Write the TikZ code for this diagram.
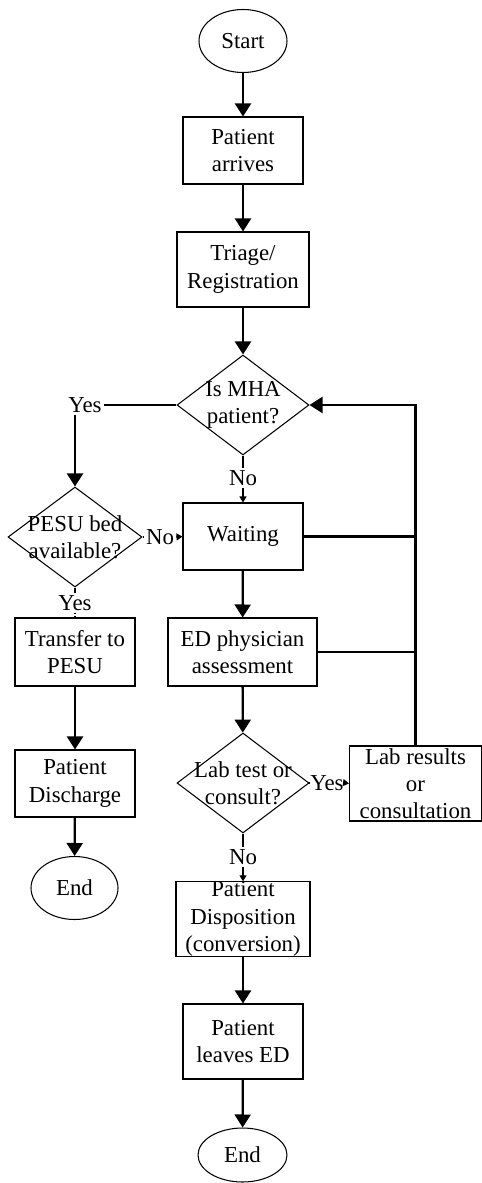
\documentclass[tikz,border=0pt]{standalone}
\usepackage{fontspec}
\setmainfont{Liberation Serif}
\usetikzlibrary{arrows.meta,shapes.geometric,positioning}
\tikzset{
  every node/.style={font=\fontsize{13}{15.5}\selectfont},
  box/.style={draw, line width=0.6pt, rectangle, align=center, inner sep=0pt},
  term/.style={draw, line width=0.6pt, ellipse, inner sep=0pt},
  decide/.style={draw, line width=0.6pt, diamond, inner sep=0pt},
  tag/.style={inner sep=1pt},
  flow/.style={line width=1.3pt, -{Triangle[length=0.26cm,width=0.32cm]}},
  link/.style={line width=1.3pt},
  thin/.style={line width=0.6pt},
  small/.style={line width=0.6pt, -{Triangle[length=0.12cm,width=0.14cm]}}
}
\begin{document}
\begin{tikzpicture}[x=0.02cm,y=-0.02cm]
\useasboundingbox (0,0) rectangle (482,1183);
% main column
\node[term, minimum width=1.76cm, minimum height=1.26cm] (start) at (243,41) {Start};
\node[box, minimum width=2.4cm, minimum height=1.34cm] (arrive) at (243,150.5) {Patient\\arrives};
\node[box, minimum width=2.64cm, minimum height=1.5cm] (triage) at (243,269.5) {Triage/\\Registration};
\node[decide, minimum width=2.64cm, minimum height=2cm, label={[align=center]center:Is MHA\\patient?}] (mha) at (243,405) {};
\node[box, minimum width=2.4cm, minimum height=1.34cm] (wait) at (243,536.5) {Waiting};
\node[box, minimum width=2.98cm, minimum height=1.36cm] (ed) at (242.5,652) {ED physician\\assessment};
\node[decide, minimum width=2.64cm, minimum height=2cm, label={[align=center]center:Lab test or\\consult?}] (lab) at (243,783) {};
\node[box, minimum width=2.68cm, minimum height=1.48cm] (dispo) at (243,919) {Patient\\Disposition\\(conversion)};
\node[box, minimum width=2.4cm, minimum height=1.5cm] (leaves) at (243,1041.5) {Patient\\leaves ED};
\node[term, minimum width=1.78cm, minimum height=1.08cm] (end2) at (242.5,1155) {End};
% PESU branch
\node[decide, minimum width=2.68cm, minimum height=2cm, label={[align=center]center:PESU bed\\available?}] (pesu) at (75,537) {};
\node[box, minimum width=2.4cm, minimum height=1.36cm] (transfer) at (75,652) {Transfer to\\PESU};
\node[box, minimum width=2.4cm, minimum height=1.34cm] (discharge) at (75,783.5) {Patient\\Discharge};
\node[term, minimum width=1.74cm, minimum height=1.26cm] (end1) at (74.5,888) {End};
% lab results
\node[box, minimum width=2.64cm, minimum height=1.5cm] (labres) at (415.5,783.5) {Lab results\\or\\consultation};
% answer tags
\node[tag] (yes1) at (85,405) {Yes};
\node[tag] (no1) at (243,478) {No};
\node[tag] (no2) at (160,537) {No};
\node[tag] (yes2) at (75,603) {Yes};
\node[tag] (yes3) at (327,783) {Yes};
\node[tag] (no3) at (243,857) {No};

\draw[flow] (start) -- (arrive);
\draw[flow] (arrive) -- (triage);
\draw[flow] (triage) -- (mha);
\draw[link] (mha.west) -- (yes1.east);
\draw[flow] (yes1.south -| pesu.north) -- (pesu.north);
\draw[thin] (mha.south) -- (no1.north);
\draw[small] (no1.south) -- (wait.north);
\draw[thin] (pesu.east) -- (no2.west);
\draw[small] (no2.east) -- (wait.west);
\draw[thin] (pesu.south) -- (yes2.north);
\draw[thin, densely dotted] (yes2.south) -- (transfer.north);
\draw[flow] (wait) -- (ed);
\draw[flow] (transfer) -- (discharge);
\draw[flow] (discharge) -- (end1);
\draw[flow] (ed) -- (lab);
\draw[thin] (lab.east) -- (yes3.west);
\draw[small] (yes3.east) -- (labres.west);
\draw[thin] (lab.south) -- (no3.north);
\draw[small] (no3.south) -- (dispo.north);
\draw[flow] (dispo) -- (leaves);
\draw[flow] (leaves) -- (end2);
% feedback loop
\draw[flow] (labres.north) -- (labres.north |- mha.east) -- (mha.east);
\draw[link] (wait.east) -- (wait.east -| labres.north);
\draw[link] (ed.east) -- (ed.east -| labres.north);
\end{tikzpicture}
\end{document}
